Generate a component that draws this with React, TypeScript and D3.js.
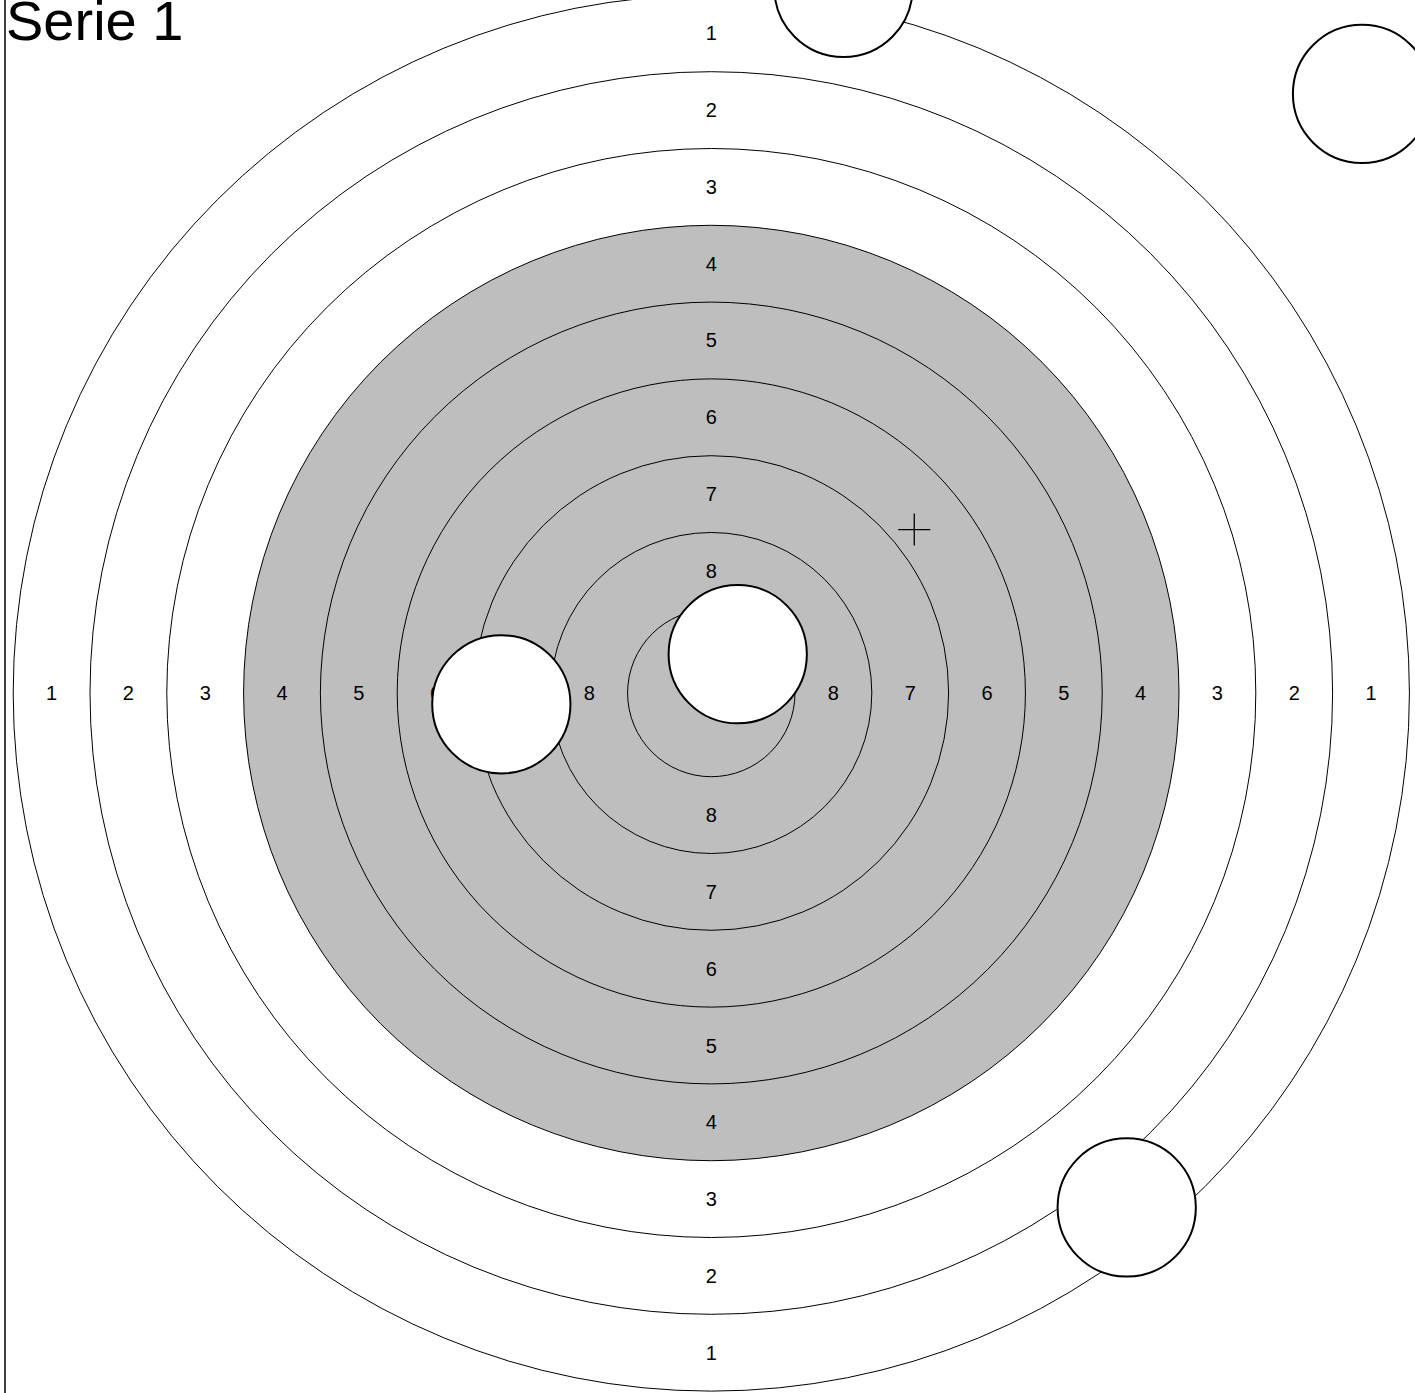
import React from "react";
import * as d3 from "d3";

// Ring values and outer radii (in target units, 10 units per ring width)
const ringValues = [1, 2, 3, 4, 5, 6, 7, 8, 9];
const ringRadii = [90.9, 80.9, 70.9, 60.9, 50.9, 40.9, 30.9, 20.9, 10.9];
const labeledRings = [1, 2, 3, 4, 5, 6, 7, 8];
const blackFromRing = 4;

// Shots (target units, x right, y up)
const shotX = [3.44, -27.34, 17.21, 84.73, 54.09];
const shotY = [5.05, -1.47, 91.81, 78.02, -66.99];
const holeRadius = 9.0;

const title = "Serie 1";

const W = 1415;
const H = 1393;
const CX = 711.3;
const CY = 693;
const PX_PER_UNIT = 7.68;

export default function App() {
  const x = d3.scaleLinear().domain([-100, 100]).range([CX - 100 * PX_PER_UNIT, CX + 100 * PX_PER_UNIT]);
  const y = d3.scaleLinear().domain([100, -100]).range([CY - 100 * PX_PER_UNIT, CY + 100 * PX_PER_UNIT]);
  const r = d3.scaleLinear().domain([0, 100]).range([0, 100 * PX_PER_UNIT]);

  const rings = ringValues.map((v, i) => ({ v, rad: ringRadii[i] }));
  const blackRad = ringRadii[ringValues.indexOf(blackFromRing)];

  const labels: { v: number; lx: number; ly: number }[] = [];
  labeledRings.forEach((v) => {
    const i = ringValues.indexOf(v);
    const mid = (ringRadii[i] + ringRadii[i + 1]) / 2;
    labels.push({ v, lx: 0, ly: mid });
    labels.push({ v, lx: 0, ly: -mid });
    labels.push({ v, lx: -mid, ly: 0 });
    labels.push({ v, lx: mid, ly: 0 });
  });

  const shots = shotX.map((sx, i) => ({ sx, sy: shotY[i] }));
  const meanX = d3.mean(shotX) as number;
  const meanY = d3.mean(shotY) as number;
  const cross = 16;

  const font = "'Liberation Sans', Arial, Helvetica, sans-serif";

  return (
    <svg
      width={W}
      height={H}
      style={{ position: "absolute", left: 0, top: 0, display: "block", background: "#fff" }}
    >
      <circle cx={x(0)} cy={y(0)} r={r(blackRad)} fill="#bebebe" />
      {rings.map((d) => (
        <circle key={d.v} cx={x(0)} cy={y(0)} r={r(d.rad)} fill="none" stroke="#000" strokeWidth={1} />
      ))}
      {labels.map((d, i) => (
        <text
          key={i}
          x={x(d.lx)}
          y={y(d.ly)}
          textAnchor="middle"
          dominantBaseline="central"
          fontFamily={font}
          fontSize={20}
          fill="#000"
        >
          {d.v}
        </text>
      ))}
      {shots.map((d, i) => (
        <circle key={i} cx={x(d.sx)} cy={y(d.sy)} r={r(holeRadius)} fill="#fff" stroke="#000" strokeWidth={2} />
      ))}
      <g stroke="#000" strokeWidth={1.3}>
        <line x1={x(meanX) - cross} x2={x(meanX) + cross} y1={y(meanY)} y2={y(meanY)} />
        <line x1={x(meanX)} x2={x(meanX)} y1={y(meanY) - cross} y2={y(meanY) + cross} />
      </g>
      <line x1={5} x2={5} y1={0} y2={H} stroke="#000" strokeWidth={1.5} />
      <text x={6} y={39.5} fontFamily={font} fontSize={56} fill="#000">
        {title}
      </text>
    </svg>
  );
}
